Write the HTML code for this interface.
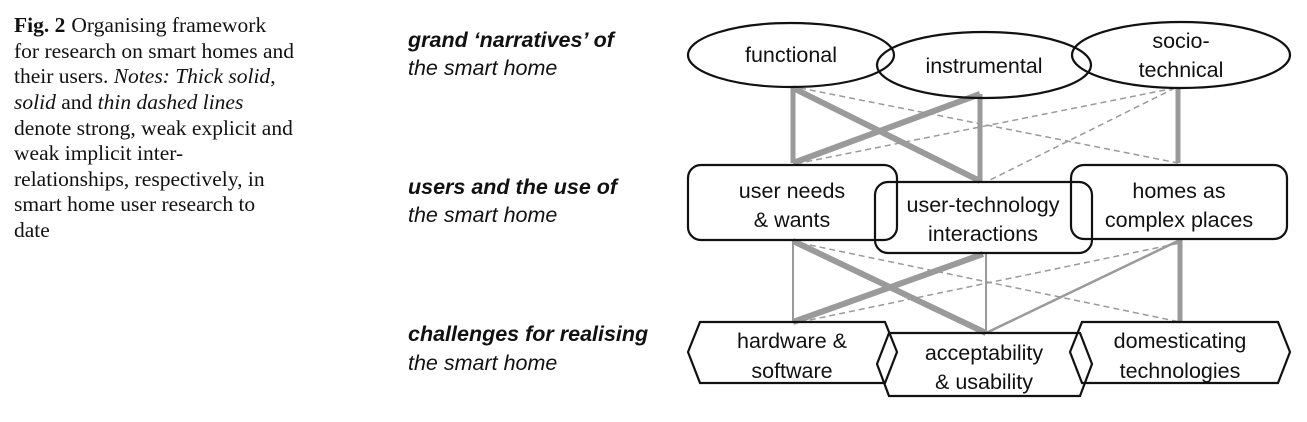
<!DOCTYPE html>
<html><head><meta charset="utf-8"><style>
html,body{margin:0;padding:0;background:#fff;}
svg{display:block;}
</style></head><body>
<svg width="1307" height="422" viewBox="0 0 1307 422" xmlns="http://www.w3.org/2000/svg">
<g font-family="Liberation Serif, serif" font-size="21.5" fill="#111">
<text x="14" y="32"><tspan font-weight="bold">Fig. 2</tspan><tspan dx="6">Organising framework</tspan></text>
<text x="14" y="58">for research on smart homes and</text>
<text x="14" y="83">their users. <tspan font-style="italic">Notes: Thick solid</tspan>,</text>
<text x="14" y="109"><tspan font-style="italic">solid</tspan> and <tspan font-style="italic">thin dashed lines</tspan></text>
<text x="14" y="135">denote strong, weak explicit and</text>
<text x="14" y="160">weak implicit inter-</text>
<text x="14" y="186">relationships, respectively, in</text>
<text x="14" y="211">smart home user research to</text>
<text x="14" y="237">date</text>
</g>
<g font-family="Liberation Sans, sans-serif" font-size="21.5" font-style="italic" fill="#111">
<text x="408" y="47" font-weight="bold">grand ‘narratives’ of</text>
<text x="408" y="75">the smart home</text>
<text x="408" y="194" font-weight="bold">users and the use of</text>
<text x="408" y="222">the smart home</text>
<text x="408" y="341" font-weight="bold">challenges for realising</text>
<text x="408" y="370">the smart home</text>
</g>
<g stroke="#9a9a9a" fill="none">
<line x1="793" y1="88" x2="793" y2="163" stroke-width="5"/>
<line x1="793" y1="88" x2="980" y2="181" stroke-width="6"/>
<line x1="980" y1="94" x2="793" y2="163" stroke-width="6"/>
<line x1="980" y1="94" x2="980" y2="181" stroke-width="5"/>
<line x1="1178" y1="88" x2="1178" y2="163" stroke-width="5"/>
<g stroke-width="1.5" stroke-dasharray="6,4">
<line x1="800" y1="88" x2="1178" y2="163"/>
<line x1="1175" y1="88" x2="800" y2="163"/>
<line x1="1175" y1="88" x2="990" y2="180"/>
</g>
<line x1="793" y1="241" x2="793" y2="322" stroke-width="2"/>
<line x1="793" y1="241" x2="986" y2="333" stroke-width="6"/>
<line x1="983" y1="254" x2="793" y2="322" stroke-width="6"/>
<line x1="986" y1="254" x2="986" y2="333" stroke-width="2"/>
<line x1="1180" y1="240" x2="986" y2="333" stroke-width="2.5"/>
<line x1="1180" y1="240" x2="1180" y2="322" stroke-width="5"/>
<g stroke-width="1.5" stroke-dasharray="6,4">
<line x1="800" y1="243" x2="1180" y2="322"/>
<line x1="800" y1="322" x2="1180" y2="243"/>
</g>
</g>
<g fill="none" stroke="#111" stroke-width="2.2">
<ellipse cx="791" cy="55" rx="103" ry="32"/>
<ellipse cx="984" cy="65" rx="107" ry="33"/>
<ellipse cx="1181" cy="55" rx="109" ry="33"/>
<rect x="688" y="165" width="209" height="75" rx="13"/>
<rect x="875" y="182" width="217" height="71" rx="13"/>
<rect x="1071" y="165" width="216" height="74" rx="13"/>
<polygon points="700,322 885,322 897,352 885,383 700,383 688,352"/>
<polygon points="889,333 1080,333 1092,364 1080,396 889,396 877,364"/>
<polygon points="1082,322 1278,322 1290,352 1278,383 1082,383 1070,352"/>
</g>
<g font-family="Liberation Sans, sans-serif" font-size="21.5" fill="#111" text-anchor="middle">
<text x="791" y="62">functional</text>
<text x="984" y="73">instrumental</text>
<text x="1181" y="48">socio-</text>
<text x="1181" y="77">technical</text>
<text x="792" y="198">user needs</text>
<text x="792" y="227">&amp; wants</text>
<text x="983" y="212">user-technology</text>
<text x="983" y="241">interactions</text>
<text x="1179" y="198">homes as</text>
<text x="1179" y="227">complex places</text>
<text x="792" y="348">hardware &amp;</text>
<text x="792" y="378">software</text>
<text x="984" y="360">acceptability</text>
<text x="984" y="389">&amp; usability</text>
<text x="1180" y="348">domesticating</text>
<text x="1180" y="378">technologies</text>
</g>
</svg>
</body></html>
